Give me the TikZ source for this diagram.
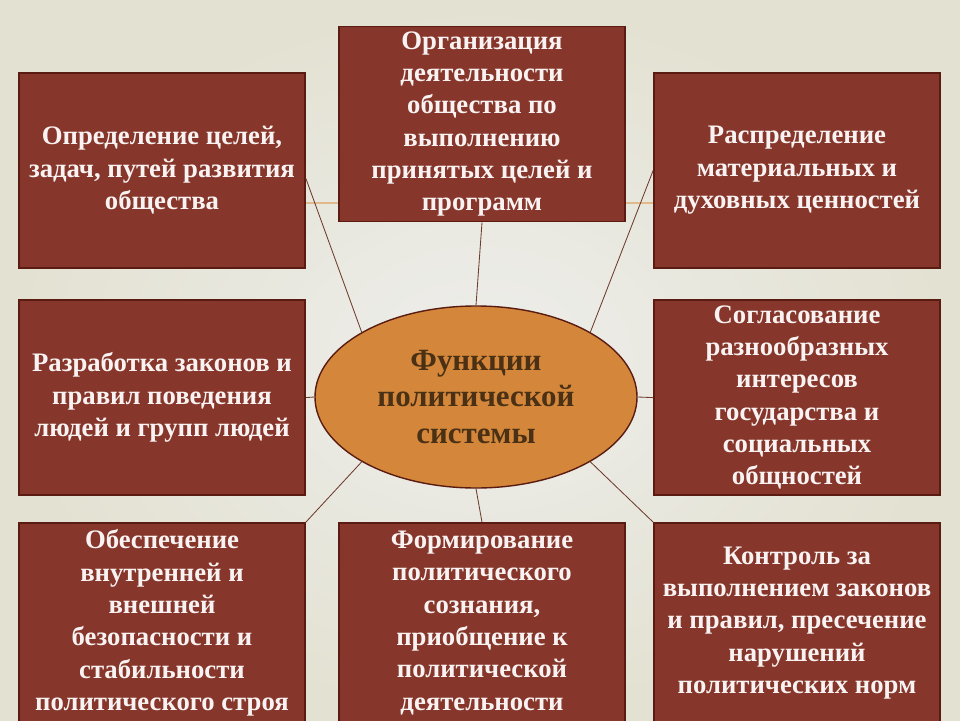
\documentclass[tikz,border=0pt]{standalone}
\usepackage{fontspec}
\setmainfont{Liberation Serif}
\usetikzlibrary{shapes.geometric}
\definecolor{boxred}{HTML}{86362A}
\definecolor{boxedge}{HTML}{5A1C12}
\definecolor{ovalfill}{HTML}{D4873A}
\definecolor{ovaltext}{HTML}{4A3014}
\definecolor{linkcol}{HTML}{6E3B2C}
\definecolor{bgmid}{HTML}{EEEEEC}
\definecolor{bgedge}{HTML}{E3E1D1}
\definecolor{titleline}{HTML}{E2B98A}
\begin{document}
\begin{tikzpicture}[
  func/.style={draw=boxedge, line width=1.2pt, fill=boxred, text=white!94!boxred,
    font=\bfseries\fontsize{19}{23}\selectfont, align=center,
    minimum width=7.15cm, minimum height=4.875cm, inner sep=0pt},
  core/.style={ellipse, draw=boxedge, line width=1pt, fill=ovalfill, text=ovaltext,
    font=\bfseries\fontsize{22}{26.2}\selectfont, align=center,
    minimum width=8.05cm, minimum height=4.55cm, inner sep=0pt},
  link/.style={draw=linkcol, line width=0.6pt}]

\clip (0,0) rectangle (24,18);
\shade[inner color=bgmid, outer color=bgedge] (0,0) rectangle (24,18);

% template line behind the top row
\draw[titleline, line width=0.8pt] (7.6,12.925) -- (16.4,12.925);

% boxes
\node[func] (goals) at (4.05,13.74) {Определение целей,\\задач, путей развития\\общества};
\node[func] (organize) at (12.05,14.9) {Организация\\деятельности\\общества по\\выполнению\\принятых целей и\\программ};
\node[func] (distrib) at (19.925,13.74) {Распределение\\материальных и\\духовных ценностей};
\node[func] (laws) at (4.05,8.06) {Разработка законов и\\правил поведения\\людей и групп людей};
\node[func] (agree) at (19.925,8.06) {Согласование\\разнообразных\\интересов\\государства и\\социальных\\общностей};
\node[func, minimum height=5cm] (security) at (4.05,2.425) {Обеспечение\\внутренней и\\внешней\\безопасности и\\стабильности\\политического строя};
\node[func, minimum height=5cm] (conscious) at (12.05,2.425) {Формирование\\политического\\сознания,\\приобщение к\\политической\\деятельности};
\node[func, minimum height=5cm] (control) at (19.925,2.425) {Контроль за\\выполнением законов\\и правил, пресечение\\нарушений\\политических норм};

% centre
\node[core] (funcs) at (11.9,8.075) {Функции\\политической\\системы};

% links
\draw[link] (funcs.north west) -- ([yshift=-0.2cm]goals.east);
\draw[link] (funcs.north) -- (organize.south);
\draw[link] (funcs.north east) -- (distrib.west);
\draw[link] (funcs.west) -- (laws.east);
\draw[link] (funcs.east) -- (agree.west);
\draw[link] (funcs.south west) -- (security.north east);
\draw[link] (funcs.south) -- (conscious.north);
\draw[link] (funcs.south east) -- (control.north west);

\end{tikzpicture}
\end{document}
